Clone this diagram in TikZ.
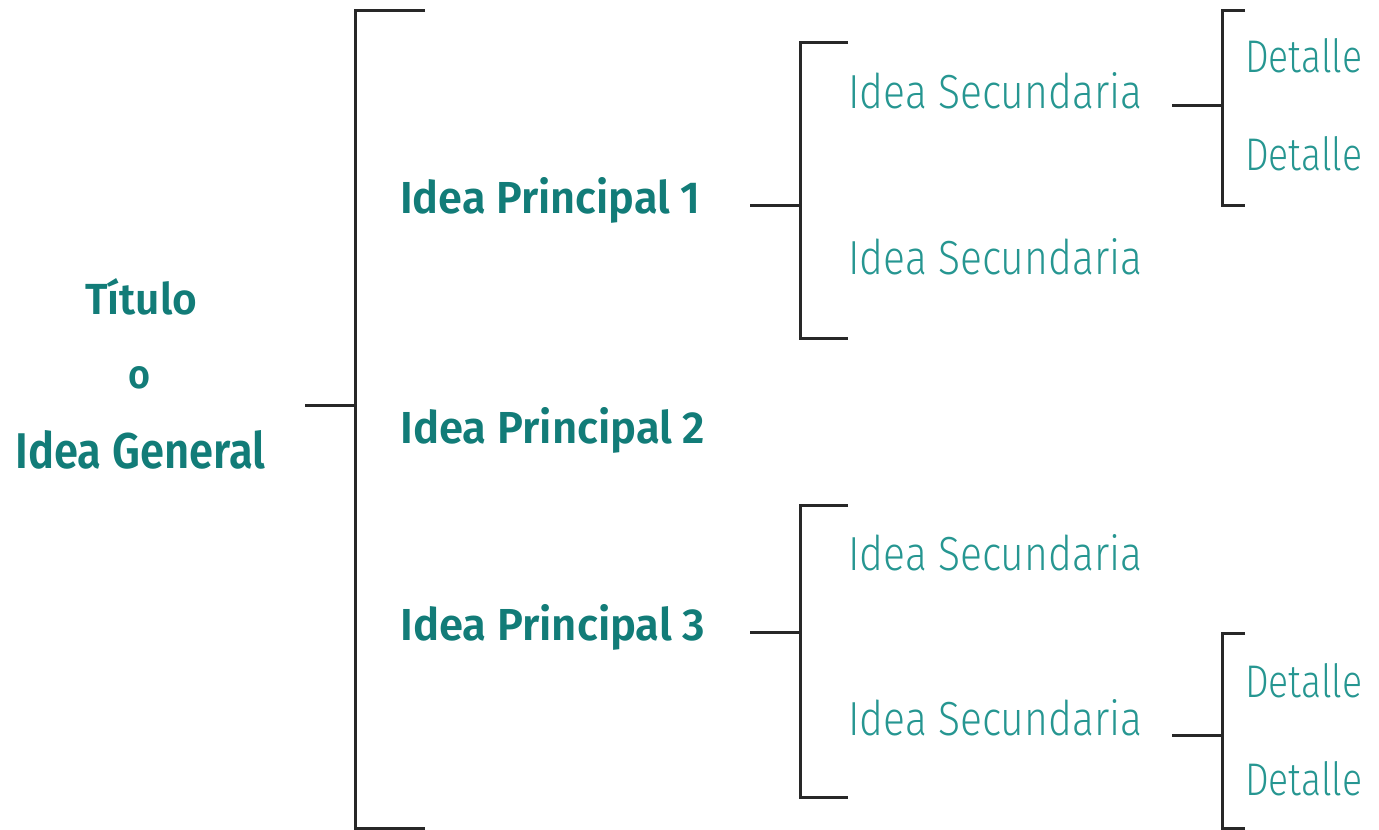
\documentclass[tikz,border=0pt]{standalone}
\usepackage{fontspec}
\usepackage{graphicx}
\setmainfont{Fira Sans}
\newfontfamily\boldface{Fira Sans}[UprightFont=* SemiBold]
\newfontfamily\thinface{Fira Sans}[UprightFont=* Light]
\definecolor{tealdark}{RGB}{18,124,120}
\definecolor{teallight}{RGB}{38,150,145}
\definecolor{linegray}{RGB}{40,40,40}
% \fitbox{width}{height}{text}: text stretched to the given box size
\newcommand{\fitbox}[3]{\resizebox{#1pt}{#2pt}{#3}}
\tikzset{
  bar/.style={draw=linegray, line width=3pt, line cap=butt, line join=miter},
  mainlbl/.style={inner sep=0pt, anchor=base west, text=tealdark, font=\boldface},
  sublbl/.style={inner sep=0pt, anchor=base west, text=teallight, font=\thinface},
}
\begin{document}
\begin{tikzpicture}[x=1pt, y=-1pt]
\useasboundingbox (0,0) rectangle (1379,830);

% title block
\node[mainlbl] (t1) at (85,314) {\fitbox{112}{36}{Título}};
\node[mainlbl] (t2) at (128,388) {\fitbox{22}{22}{o}};
\node[mainlbl] (t3) at (15,468) {\fitbox{250}{38}{Idea General}};

% main ideas
\node[mainlbl] (p1) at (400,213) {\fitbox{300}{36}{Idea Principal 1}};
\node[mainlbl] (p2) at (400,443) {\fitbox{305}{36}{Idea Principal 2}};
\node[mainlbl] (p3) at (400,640) {\fitbox{305}{36}{Idea Principal 3}};

% secondary ideas
\node[sublbl] (s1) at (848,108) {\fitbox{294}{36}{Idea Secundaria}};
\node[sublbl] (s2) at (848,274) {\fitbox{294}{36}{Idea Secundaria}};
\node[sublbl] (s3) at (848,570) {\fitbox{294}{36}{Idea Secundaria}};
\node[sublbl] (s4) at (848,735) {\fitbox{294}{36}{Idea Secundaria}};

% details
\node[sublbl] (d1) at (1245,72)  {\fitbox{117}{34}{Detalle}};
\node[sublbl] (d2) at (1245,170) {\fitbox{117}{34}{Detalle}};
\node[sublbl] (d3) at (1245,697) {\fitbox{117}{34}{Detalle}};
\node[sublbl] (d4) at (1245,795) {\fitbox{117}{34}{Detalle}};

% bracket corner points
\coordinate (m0) at (305,405);  \coordinate (m1) at (355,405);
\coordinate (mt) at (355,10);   \coordinate (mte) at (425,10);
\coordinate (mb) at (355,828);  \coordinate (mbe) at (425,828);

\coordinate (a0) at (750,205);  \coordinate (a1) at (800,205);
\coordinate (at) at (800,42);   \coordinate (ate) at (848,42);
\coordinate (ab) at (800,338);  \coordinate (abe) at (848,338);

\coordinate (c0) at (750,632);  \coordinate (c1) at (800,632);
\coordinate (ct) at (800,505);  \coordinate (cte) at (848,505);
\coordinate (cb) at (800,797);  \coordinate (cbe) at (848,797);

\coordinate (e0) at (1172,105); \coordinate (e1) at (1222,105);
\coordinate (et) at (1222,10);  \coordinate (ete) at (1245,10);
\coordinate (eb) at (1222,205); \coordinate (ebe) at (1245,205);

\coordinate (f0) at (1172,735); \coordinate (f1) at (1222,735);
\coordinate (ft) at (1222,633); \coordinate (fte) at (1245,633);
\coordinate (fb) at (1222,828); \coordinate (fbe) at (1245,828);

% brackets
\draw[bar] (mte) -- (mt) -- (mb) -- (mbe);  \draw[bar] (m0) -- (m1);
\draw[bar] (ate) -- (at) -- (ab) -- (abe);  \draw[bar] (a0) -- (a1);
\draw[bar] (cte) -- (ct) -- (cb) -- (cbe);  \draw[bar] (c0) -- (c1);
\draw[bar] (ete) -- (et) -- (eb) -- (ebe);  \draw[bar] (e0) -- (e1);
\draw[bar] (fte) -- (ft) -- (fb) -- (fbe);  \draw[bar] (f0) -- (f1);
\end{tikzpicture}
\end{document}
